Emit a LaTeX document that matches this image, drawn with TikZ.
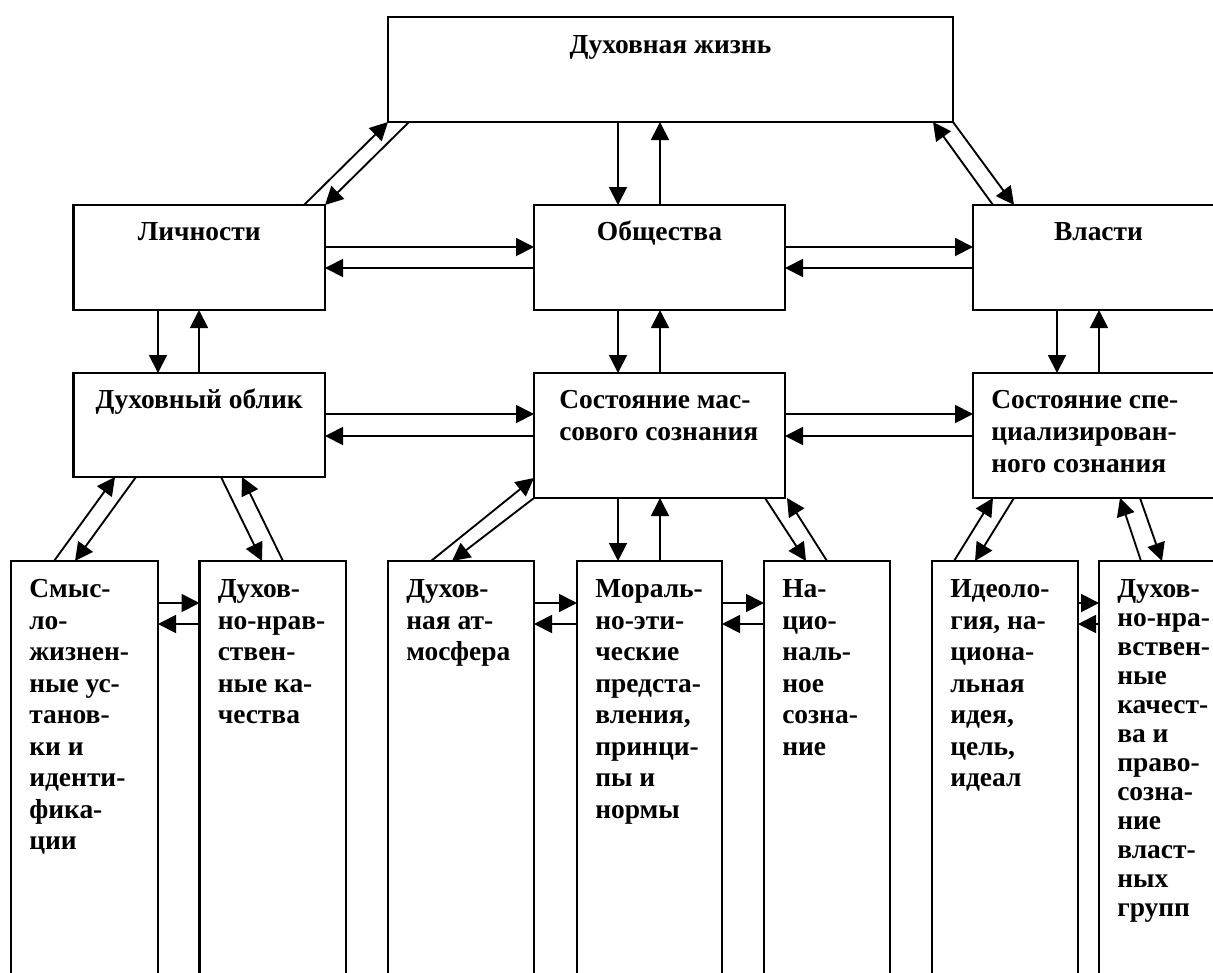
\documentclass[tikz,border=0pt]{standalone}
\usepackage{fontspec}
\setmainfont{Liberation Serif}
\usetikzlibrary{arrows.meta,calc}
\newcommand{\myst}{\rule{0pt}{1em}}
\begin{document}
\begin{tikzpicture}[x=0.75pt,y=-0.75pt,
  bx/.style 2 args={draw, line width=1.7pt, anchor=north west, inner sep=0pt, outer sep=0pt,
    minimum width=#1*0.75pt, minimum height=#2*0.75pt},
  arr/.style={line width=1.4pt, -{Triangle[length=13.5pt,width=13.5pt]}},
  lbl/.style={inner sep=0pt, anchor=north west, align=left,
    font=\bfseries\fontsize{20.6pt}{23.6pt}\selectfont},
  clbl/.style={lbl, anchor=north, align=center},
  wide/.style={font=\bfseries\fontsize{20.6pt}{24pt}\selectfont},
  tight/.style={font=\bfseries\fontsize{20.6pt}{21.75pt}\selectfont}]
\useasboundingbox (0,0) rectangle (1213,972);

% boxes
\node[bx={565}{105}] (top) at (388,17) {};
\node[bx={251.5}{105}] (lich) at (73.5,205) {};
\node[bx={251}{105}] (obsh) at (534,205) {};
\node[bx={251}{105}] (vlast) at (973,205) {};
\node[bx={251.5}{104}] (oblik) at (73.5,373) {};
\node[bx={251}{125}] (mass) at (534,373) {};
\node[bx={251}{125}] (spec) at (973,373) {};
\node[bx={147}{450}] (b1) at (11,561) {};
\node[bx={146.5}{450}] (b2) at (199.5,561) {};
\node[bx={146}{450}] (b3) at (388,561) {};
\node[bx={145}{450}] (b4) at (577,561) {};
\node[bx={126}{450}] (b5) at (764,561) {};
\node[bx={146}{450}] (b6) at (932,561) {};
\node[bx={146}{450}] (b7) at (1099,561) {};

% labels
\node[clbl] (t0) at ($(top.north)+(0,9)$) {\myst Духовная жизнь};
\node[clbl] (t1) at ($(lich.north)+(0,8)$) {\myst Личности};
\node[clbl] (t2) at ($(obsh.north)+(0,8)$) {\myst Общества};
\node[clbl] (t3) at ($(vlast.north)+(0,8)$) {\myst Власти};
\node[clbl] (t4) at ($(oblik.north)+(0,8)$) {\myst Духовный облик};
\node[lbl,wide] (t5) at ($(mass.north west)+(25,8)$) {\myst Состояние мас-\\сового сознания};
\node[lbl,wide] (t6) at ($(spec.north west)+(18,8)$) {\myst Состояние спе-\\циализирован-\\ного сознания};
\node[lbl] (t7) at ($(b1.north west)+(18,9)$) {\myst Смыс-\\ло-\\жизнен-\\ные ус-\\танов-\\ки и\\иденти-\\фика-\\ции};
\node[lbl] (t8) at ($(b2.north west)+(18,9)$) {\myst Духов-\\но-нрав-\\ствен-\\ные ка-\\чества};
\node[lbl] (t9) at ($(b3.north west)+(18,9)$) {\myst Духов-\\ная ат-\\мосфера};
\node[lbl] (t10) at ($(b4.north west)+(18,9)$) {\myst Мораль-\\но-эти-\\ческие\\предста-\\вления,\\принци-\\пы и\\нормы};
\node[lbl] (t11) at ($(b5.north west)+(18,9)$) {\myst На-\\цио-\\наль-\\ное\\созна-\\ние};
\node[lbl] (t12) at ($(b6.north west)+(18,9)$) {\myst Идеоло-\\гия, на-\\циона-\\льная\\идея,\\цель,\\идеал};
\node[lbl,tight] (t13) at ($(b7.north west)+(18,9)$) {\myst Духов-\\но-нра-\\вствен-\\ные\\качест-\\ва и\\право-\\созна-\\ние\\власт-\\ных\\групп};

% connectors
\draw[arr] (lich.north -| 304,0) -- (top.south west);
\draw[arr] (top.south -| 409,0) -- (lich.north east);
\draw[arr] (top.south -| 618,0) -- (obsh.north -| 618,0);
\draw[arr] (obsh.north -| 660,0) -- (top.south -| 660,0);
\draw[arr] (vlast.north -| 993,0) -- (top.south -| 933,0);
\draw[arr] (top.south east) -- (vlast.north -| 1014,0);
\draw[arr] (lich.east |- 0,247) -- (obsh.west |- 0,247);
\draw[arr] (obsh.west |- 0,268) -- (lich.east |- 0,268);
\draw[arr] (obsh.east |- 0,247) -- (vlast.west |- 0,247);
\draw[arr] (vlast.west |- 0,268) -- (obsh.east |- 0,268);
\draw[arr] (lich.south -| 158,0) -- (oblik.north -| 158,0);
\draw[arr] (oblik.north -| 199,0) -- (lich.south -| 199,0);
\draw[arr] (obsh.south -| 618,0) -- (mass.north -| 618,0);
\draw[arr] (mass.north -| 660,0) -- (obsh.south -| 660,0);
\draw[arr] (vlast.south -| 1057,0) -- (spec.north -| 1057,0);
\draw[arr] (spec.north -| 1099,0) -- (vlast.south -| 1099,0);
\draw[arr] (oblik.east |- 0,414) -- (mass.west |- 0,414);
\draw[arr] (mass.west |- 0,436) -- (oblik.east |- 0,436);
\draw[arr] (mass.east |- 0,414) -- (spec.west |- 0,414);
\draw[arr] (spec.west |- 0,436) -- (mass.east |- 0,436);
\draw[arr] (b1.north -| 54,0) -- (oblik.south -| 115,0);
\draw[arr] (oblik.south -| 136,0) -- (b1.north -| 75,0);
\draw[arr] (oblik.south -| 221,0) -- (b2.north -| 262,0);
\draw[arr] (b2.north -| 283,0) -- (oblik.south -| 242,0);
\draw[arr] (b1.east |- 0,603) -- (b2.west |- 0,603);
\draw[arr] (b2.west |- 0,624) -- (b1.east |- 0,624);
\draw[arr] (b3.north -| 431,0) -- (mass.west |- 0,478);
\draw[arr] (mass.south west) -- (b3.north -| 452,0);
\draw[arr] (mass.south -| 618,0) -- (b4.north -| 618,0);
\draw[arr] (b4.north -| 660,0) -- (mass.south -| 660,0);
\draw[arr] (mass.south -| 765,0) -- (b5.north -| 806,0);
\draw[arr] (b5.north -| 827,0) -- (mass.south -| 787,0);
\draw[arr] (b3.east |- 0,603) -- (b4.west |- 0,603);
\draw[arr] (b4.west |- 0,624) -- (b3.east |- 0,624);
\draw[arr] (b4.east |- 0,603) -- (b5.west |- 0,603);
\draw[arr] (b5.west |- 0,624) -- (b4.east |- 0,624);
\draw[arr] (b6.north -| 954,0) -- (spec.south -| 993,0);
\draw[arr] (spec.south -| 1014,0) -- (b6.north -| 975,0);
\draw[arr] (b7.north -| 1141,0) -- (spec.south -| 1120,0);
\draw[arr] (spec.south -| 1140,0) -- (b7.north -| 1162,0);
\draw[arr] (b6.east |- 0,603) -- (b7.west |- 0,603);
\draw[arr] (b7.west |- 0,624) -- (b6.east |- 0,624);
\end{tikzpicture}
\end{document}
